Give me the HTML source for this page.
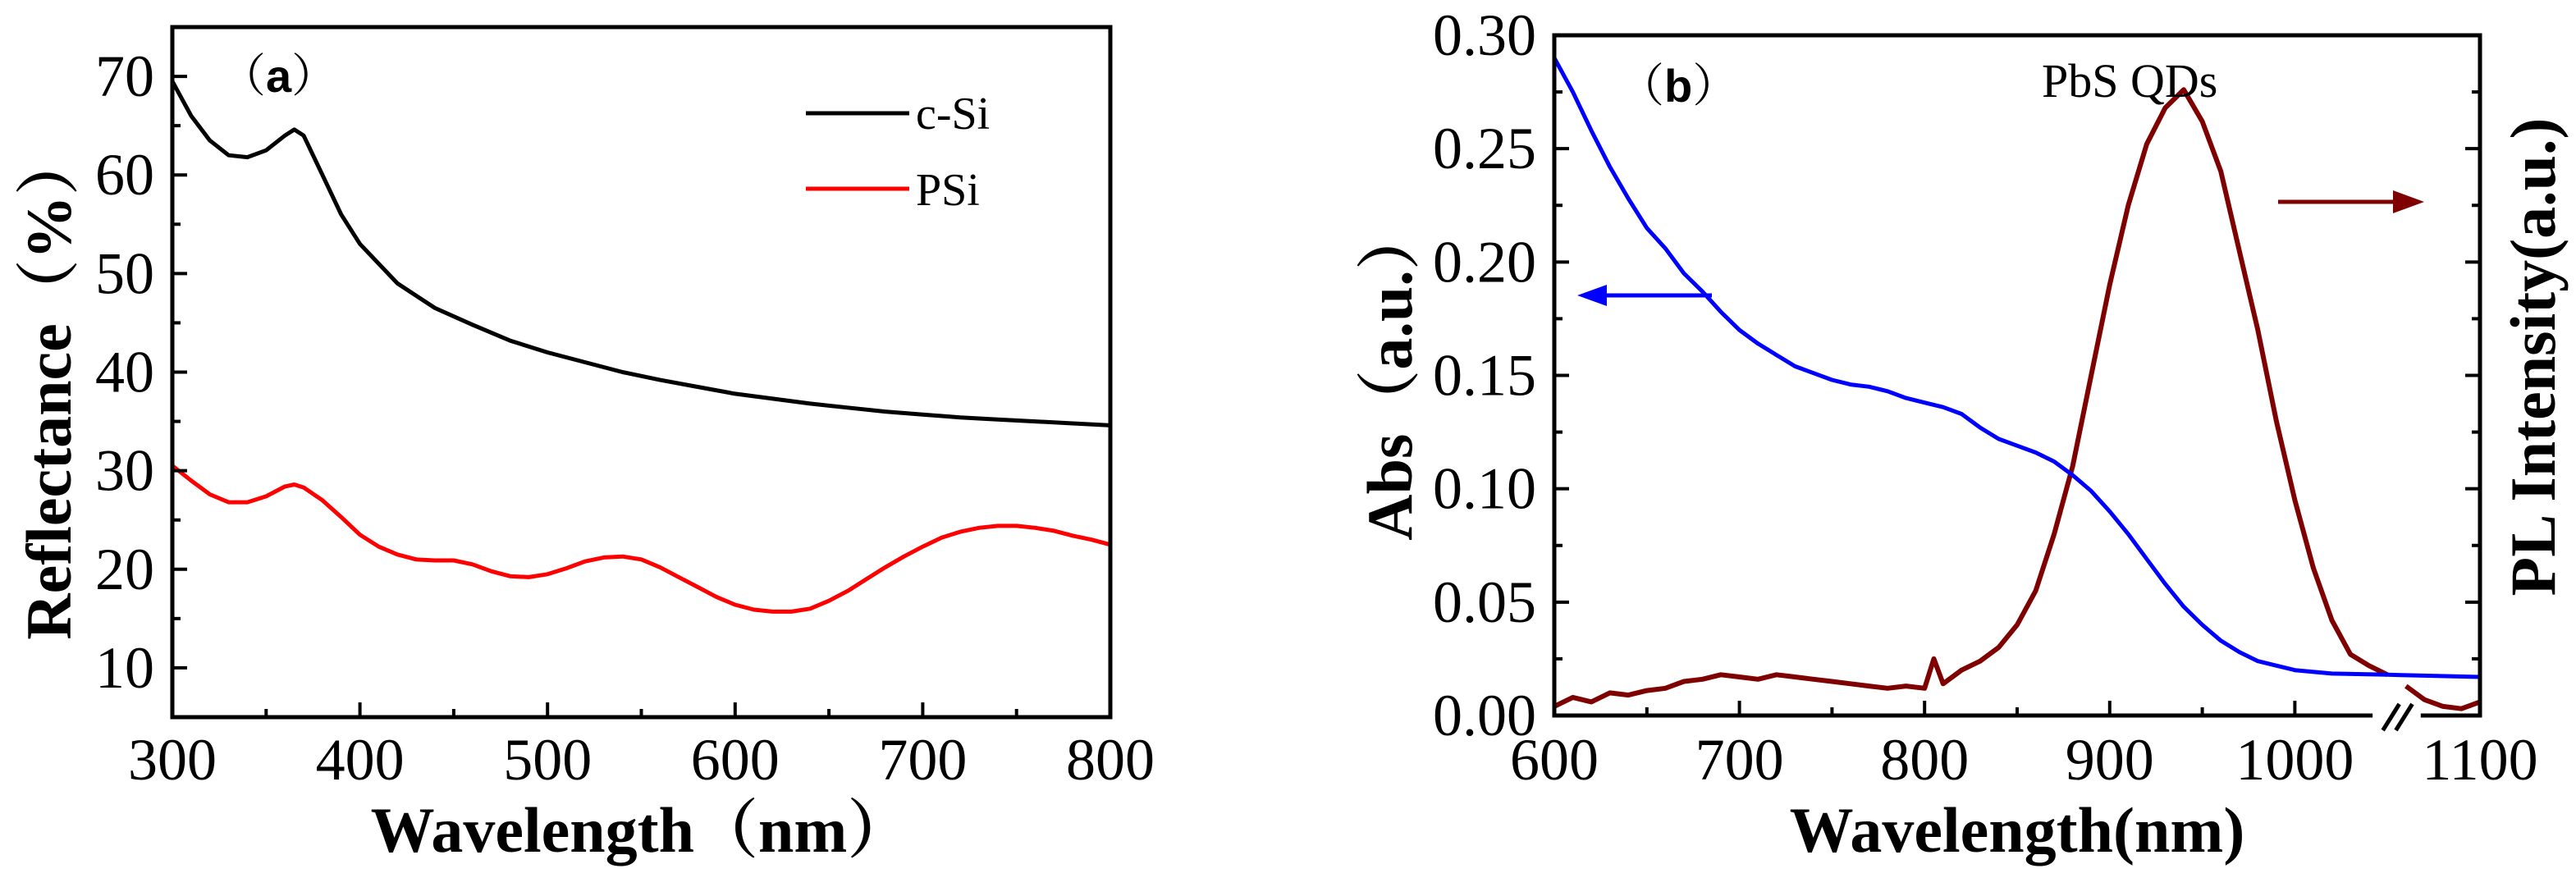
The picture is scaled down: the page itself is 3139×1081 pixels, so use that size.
<!DOCTYPE html>
<html><head><meta charset="utf-8">
<style>
html,body{margin:0;padding:0;background:#fff;}
svg{display:block;}
text{font-family:"Liberation Serif","Noto Serif CJK SC",serif;}
</style></head>
<body>
<svg id="fig" width="3139" height="1081" viewBox="0 0 3139 1081" xmlns="http://www.w3.org/2000/svg">
<g id="pa"></g>
<g id="pb"></g>
</svg>
<script>
// Panel (a) data
const waveA = [300,310,320,330,340,350,360,365,370,380,390,400,420,440,460,480,500,520,540,560,580,600,620,640,660,680,700,720,740,760,780,800];
const cSi = [69.5,66,63.5,62,61.8,62.5,64,64.6,64,60,56,53,49,46.5,44.8,43.2,42,41,40,39.2,38.5,37.8,37.3,36.8,36.4,36,35.7,35.4,35.2,35,34.8,34.6];
const waveP = [300,310,320,330,340,350,360,365,370,380,390,400,410,420,430,440,450,460,470,480,490,500,510,520,530,540,550,560,570,580,590,600,610,620,630,640,650,660,670,680,690,700,710,720,730,740,750,760,770,780,790,800];
const pSi = [30.5,29,27.6,26.8,26.8,27.4,28.4,28.6,28.3,27,25.3,23.5,22.3,21.5,21,20.9,20.9,20.5,19.8,19.3,19.2,19.5,20.1,20.8,21.2,21.3,21,20.2,19.2,18.2,17.2,16.4,15.9,15.7,15.7,16,16.8,17.8,19,20.2,21.3,22.3,23.2,23.8,24.2,24.4,24.4,24.2,23.9,23.4,23,22.5];
const xTicksA = [300,400,500,600,700,800];
const yTicksA = [10,20,30,40,50,60,70];
// Panel (b) data
const waveAbs = [600,610,620,630,640,650,660,670,680,690,700,710,720,730,740,750,760,770,780,790,800,810,820,830,840,850,860,870,880,890,900,910,920,930,940,950,960,970,980,990,1000,1020,1050,1100];
const absVal = [0.29,0.275,0.258,0.242,0.228,0.215,0.206,0.195,0.187,0.178,0.170,0.164,0.159,0.154,0.151,0.148,0.146,0.145,0.143,0.140,0.138,0.136,0.133,0.127,0.122,0.119,0.116,0.112,0.106,0.099,0.090,0.080,0.069,0.058,0.048,0.040,0.033,0.028,0.024,0.022,0.020,0.0185,0.018,0.017];
const wavePL1 = [600,610,620,630,640,650,660,670,680,690,700,710,720,730,740,750,760,770,780,790,800,805,810,820,830,840,850,860,870,880,890,900,910,920,930,940,950,960,970,980,990,1000,1010,1020,1030,1040,1050];
const pl1 = [0.004,0.008,0.006,0.01,0.009,0.011,0.012,0.015,0.016,0.018,0.017,0.016,0.018,0.017,0.016,0.015,0.014,0.013,0.012,0.013,0.012,0.025,0.014,0.02,0.024,0.03,0.04,0.055,0.08,0.11,0.15,0.19,0.225,0.252,0.268,0.276,0.262,0.24,0.205,0.17,0.13,0.095,0.065,0.042,0.027,0.022,0.018];
const wavePL2 = [1060,1065,1070,1080,1090,1100];
const pl2 = [0.013,0.01,0.007,0.004,0.003,0.006];
const xTicksB = [600,700,800,900,1000,1100];
const yTicksB = [0.00,0.05,0.10,0.15,0.20,0.25,0.30];

const NS='http://www.w3.org/2000/svg';
function mk(parent,tag,attrs,text){const e=document.createElementNS(NS,tag);for(const k in attrs)e.setAttribute(k,attrs[k]);if(text!==undefined)e.textContent=text;parent.appendChild(e);return e;}
function lin(d0,d1,r0,r1){return v=>r0+(v-d0)*(r1-r0)/(d1-d0);}
function pathD(xs,ys,fx,fy){return xs.map((x,i)=>(i?'L':'M')+fx(x).toFixed(1)+','+fy(ys[i]).toFixed(1)).join('');}
function panelLabel(parent,x,y,letter){
  const t=mk(parent,'text',{x:x,y:y,'font-size':56});
  mk(t,'tspan',{},'（');
  mk(t,'tspan',{'font-weight':'bold','font-family':'Liberation Sans, sans-serif'},letter);
  mk(t,'tspan',{},'）');
  return t;
}

// ---------- Panel A ----------
const A=document.getElementById('pa');
const ax=lin(300,800,210,1353), ay=lin(5,75,874,33);
let e;
e=mk(A,'path',{d:pathD(waveA,cSi,ax,ay),fill:'none',stroke:'#000','stroke-width':5,'stroke-linejoin':'round'});


e=mk(A,'path',{d:pathD(waveP,pSi,ax,ay),fill:'none',stroke:'#ff0000','stroke-width':5,'stroke-linejoin':'round'});


e=mk(A,'rect',{x:210,y:33,width:1143,height:841,fill:'none',stroke:'#000','stroke-width':5});


for(let v=300;v<=800;v+=50){const major=v%100===0;
  e=mk(A,'line',{x1:ax(v),x2:ax(v),y1:874,y2:874-(major?18:10),stroke:'#000','stroke-width':4});
  
  }
for(let v=5;v<=75;v+=5){const major=v%10===0;
  e=mk(A,'line',{x1:210,x2:210+(major?18:10),y1:ay(v),y2:ay(v),stroke:'#000','stroke-width':4});
  
  }
xTicksA.forEach(v=>{e=mk(A,'text',{x:ax(v),y:950,'font-size':72,'text-anchor':'middle'},String(v));
  
  });
yTicksA.forEach(v=>{e=mk(A,'text',{x:188,y:ay(v)+24,'font-size':72,'text-anchor':'end'},String(v));
  
  });
e=mk(A,'text',{x:781,y:1038,'font-size':78,'font-weight':'bold','text-anchor':'middle'},'Wavelength（nm）');


e=mk(A,'text',{x:0,y:0,'font-size':78,'font-weight':'bold','text-anchor':'middle',transform:'translate(86,470) rotate(-90)'},'Reflectance（%）');


e=panelLabel(A,268,112,'a');


e=mk(A,'line',{x1:982,x2:1108,y1:138,y2:138,stroke:'#000','stroke-width':5});


e=mk(A,'text',{x:1116,y:157,'font-size':56},'c-Si');


e=mk(A,'line',{x1:982,x2:1108,y1:230,y2:230,stroke:'#ff0000','stroke-width':5});


e=mk(A,'text',{x:1116,y:250,'font-size':56},'PSi');



// ---------- Panel B ----------
const B=document.getElementById('pb');
const bx=lin(600,1100,1894,3022), by=lin(0,0.30,872,43);
e=mk(B,'path',{d:pathD(wavePL1,pl1,bx,by),fill:'none',stroke:'#7f0000','stroke-width':6,'stroke-linejoin':'round'});


e=mk(B,'path',{d:pathD(wavePL2,pl2,bx,by),fill:'none',stroke:'#7f0000','stroke-width':6,'stroke-linejoin':'round'});


e=mk(B,'path',{d:pathD(waveAbs,absVal,bx,by),fill:'none',stroke:'#0000ff','stroke-width':5,'stroke-linejoin':'round'});


e=mk(B,'rect',{x:1894,y:43,width:1128,height:829,fill:'none',stroke:'#000','stroke-width':5});


for(let v=600;v<=1100;v+=50){const major=v%100===0;
  e=mk(B,'line',{x1:bx(v),x2:bx(v),y1:872,y2:872-(major?18:10),stroke:'#000','stroke-width':4});
  
  }
for(let i=0;i<=12;i++){const v=i*0.025,major=i%2===0;
  e=mk(B,'line',{x1:1894,x2:1894+(major?18:10),y1:by(v),y2:by(v),stroke:'#000','stroke-width':4});
  
  
  e=mk(B,'line',{x1:3022,x2:3022-(major?18:10),y1:by(v),y2:by(v),stroke:'#000','stroke-width':4});
  
  }
e=mk(B,'rect',{x:bx(1042),y:860,width:bx(1068)-bx(1042),height:24,fill:'#fff'});


e=mk(B,'path',{d:'M'+(bx(1052)-10)+',890L'+(bx(1052)+10)+',858M'+(bx(1059)-10)+',890L'+(bx(1059)+10)+',858',stroke:'#000','stroke-width':5,fill:'none'});


xTicksB.forEach(v=>{e=mk(B,'text',{x:bx(v),y:950,'font-size':72,'text-anchor':'middle'},String(v));
  
  });
yTicksB.forEach(v=>{e=mk(B,'text',{x:1872,y:by(v)+24,'font-size':72,'text-anchor':'end'},v.toFixed(2));
  
  });
e=mk(B,'text',{x:2458,y:1038,'font-size':78,'font-weight':'bold','text-anchor':'middle'},'Wavelength(nm)');


e=mk(B,'text',{x:0,y:0,'font-size':78,'font-weight':'bold','text-anchor':'middle',transform:'translate(1720,455) rotate(-90)'},'Abs（a.u.）');


e=mk(B,'text',{x:0,y:0,'font-size':78,'font-weight':'bold','text-anchor':'middle',transform:'translate(3113,435) rotate(-90)'},'PL Intensity(a.u.)');


e=panelLabel(B,1972,124,'b');


e=mk(B,'text',{x:2488,y:118,'font-size':58},'PbS QDs');


e=mk(B,'line',{x1:2086,x2:1950,y1:360,y2:360,stroke:'#0000ff','stroke-width':5});


e=mk(B,'polygon',{points:'1922,360 1958,347 1958,373',fill:'#0000ff'});


e=mk(B,'line',{x1:2776,x2:2920,y1:246,y2:246,stroke:'#7f0000','stroke-width':5});


e=mk(B,'polygon',{points:'2954,246 2916,232 2916,260',fill:'#7f0000'});


</script>
</body></html>
